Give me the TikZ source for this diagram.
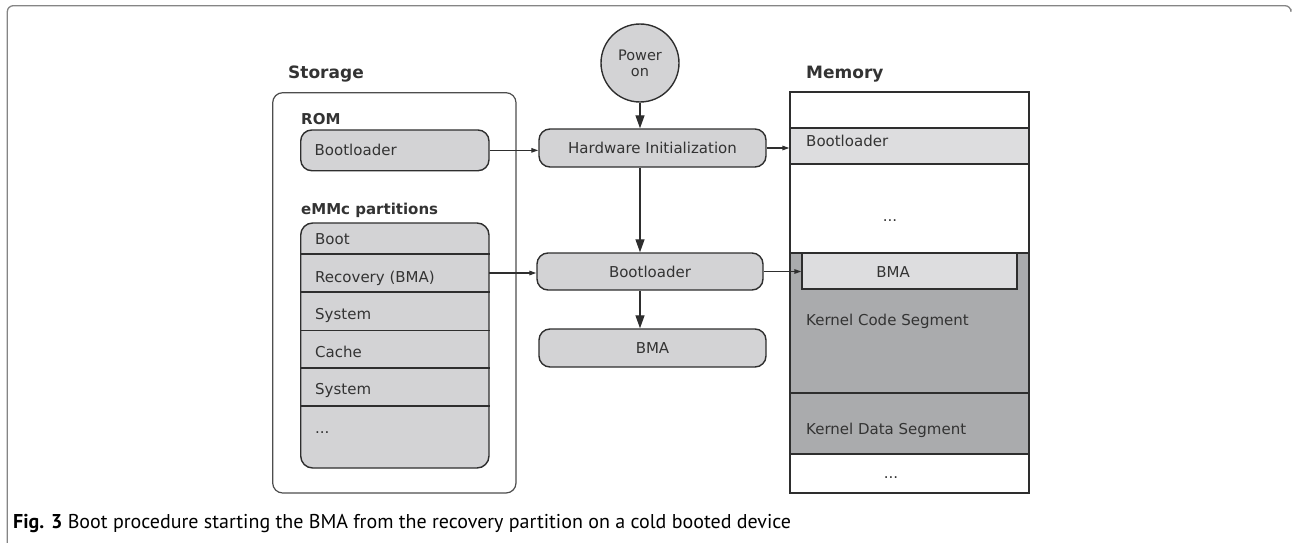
\documentclass[tikz,border=0pt]{standalone}
\usepackage{fontspec}
\setmainfont{DejaVu Sans}
\newfontfamily\capfont{PT Sans}
\usetikzlibrary{arrows.meta}
\definecolor{linec}{HTML}{2E2E2E}
\definecolor{boxc}{HTML}{D3D3D5}
\definecolor{lightc}{HTML}{DDDDDF}
\definecolor{darkc}{HTML}{AAABAD}
\definecolor{textc}{HTML}{333333}
\definecolor{framec}{HTML}{858585}
\begin{document}
\begin{tikzpicture}[x=1pt,y=-1pt,
  every node/.style={text=textc, font=\fontsize{15}{16}\selectfont},
  rbox/.style={draw=linec, fill=boxc, line width=1.4, rounded corners=11, inner sep=0, text height=11, text depth=0},
  txt/.style={anchor=west, inner sep=0, text height=11, text depth=0},
  ctxt/.style={anchor=center, inner sep=0, text height=11, text depth=0},
  head/.style={anchor=base west, inner sep=0, font=\bfseries\fontsize{17}{20}\selectfont},
  sub/.style={anchor=base west, inner sep=0, font=\bfseries\fontsize{15}{18}\selectfont},
  harr/.style={-{Triangle[length=7,width=4.5]}, draw=linec, line width=1.3},
  varr/.style={-{Triangle[length=13,width=9]}, draw=linec, line width=1.3},
  memrow/.style={draw=linec, line width=1.3, inner sep=0}]
\useasboundingbox (0,0) rectangle (1292,543);
% outer frame
\draw[framec, line width=1.3, rounded corners=6] (7.3,543) -- (7.3,5.7) -- (1291,5.7) -- (1291,9);

% Storage
\node[draw=linec!85, line width=1.2, fill=white, rounded corners=10, inner sep=0, minimum width=243.3, minimum height=400.3] (storage) at (394.35,292.85) {};
\node[head] (storlbl) at (288,78.5) {Storage};
\node[sub] (rom) at (301,124.5) {ROM};
\node[rbox, minimum width=188.3, minimum height=40.7, text width=160.3, align=left] (romboot) at (394.85,150.35) {Bootloader};
\node[sub] (emmc) at (301,214.5) {eMMc partitions};
\node[rbox, rounded corners=12, minimum width=188.3, minimum height=245] (parts) at (394.85,345.5) {};
\foreach \yy in {254,292,330.7,368,406}
  \draw[linec, line width=1.2] (parts.west |- 0,\yy) -- (parts.east |- 0,\yy);
\node[inner sep=0, minimum width=188.3, minimum height=38] (recrow) at (394.85,273) {};
\node[txt] (pboot) at (315,239) {Boot};
\node[txt] (precov) at (315,277) {Recovery (BMA)};
\node[txt] (psys1) at (315,314) {System};
\node[txt] (pcache) at (315,352) {Cache};
\node[txt] (psys2) at (315,389) {System};
\node[txt] (pdots) at (315,428) {...};

% Memory
\node[draw=linec, line width=1.3, fill=white, inner sep=0, minimum width=239, minimum height=401] (mem) at (909.5,292.5) {};
\node[head] (memlbl) at (806,78.5) {Memory};
\node[memrow, fill=lightc, minimum width=239, minimum height=36] (membl) at (909.5,146) {};
\node[txt] (memblt) at (806,141) {Bootloader};
\node[ctxt] (mdots1) at (890,216) {...};
\node[memrow, fill=darkc, minimum width=239, minimum height=140] (kcode) at (909.5,323) {};
\node[memrow, fill=darkc, minimum width=239, minimum height=61] (kdata) at (909.5,423.5) {};
\node[memrow, fill=lightc, minimum width=215, minimum height=36] (mbma) at (909.5,271) {};
\node[ctxt] (mbmat) at (893,272) {BMA};
\node[txt] (kcodet) at (806,320) {Kernel Code Segment};
\node[txt] (kdatat) at (806,429) {Kernel Data Segment};
\node[ctxt] (mdots2) at (891,473) {...};

% Flow
\node[circle, draw=linec, fill=boxc, line width=1.4, minimum size=78, inner sep=0, align=center, font=\fontsize{14.5}{16}\selectfont] (power) at (640,63) {Power\\on};
\node[rbox, minimum width=227, minimum height=38] (hw) at (652.5,148) {Hardware Initialization};
\node[rbox, minimum width=226, minimum height=37] (boot2) at (650,271.5) {Bootloader};
\node[rbox, minimum width=227, minimum height=38] (bma) at (652.5,348) {BMA};

\draw[varr] (power.south) -- (power.south |- hw.north);
\draw[varr] (hw.south -| power.south) -- (boot2.north -| power.south);
\draw[varr] (boot2.south -| power.south) -- (bma.north -| power.south);
\draw[harr] (romboot.east) -- (romboot.east -| hw.west);
\draw[harr] (recrow.east) -- (recrow.east -| boot2.west);
\draw[harr] (hw.east) -- (hw.east -| membl.west);
\draw[harr] (boot2.east) -- (boot2.east -| mbma.west);

% caption
\node[anchor=base west, inner sep=0, text=black, font=\capfont\fontsize{20}{22}\selectfont] (cap) at (13,528.5) {\textbf{Fig. 3} Boot procedure starting the BMA from the recovery partition on a cold booted device};
\end{tikzpicture}
\end{document}
